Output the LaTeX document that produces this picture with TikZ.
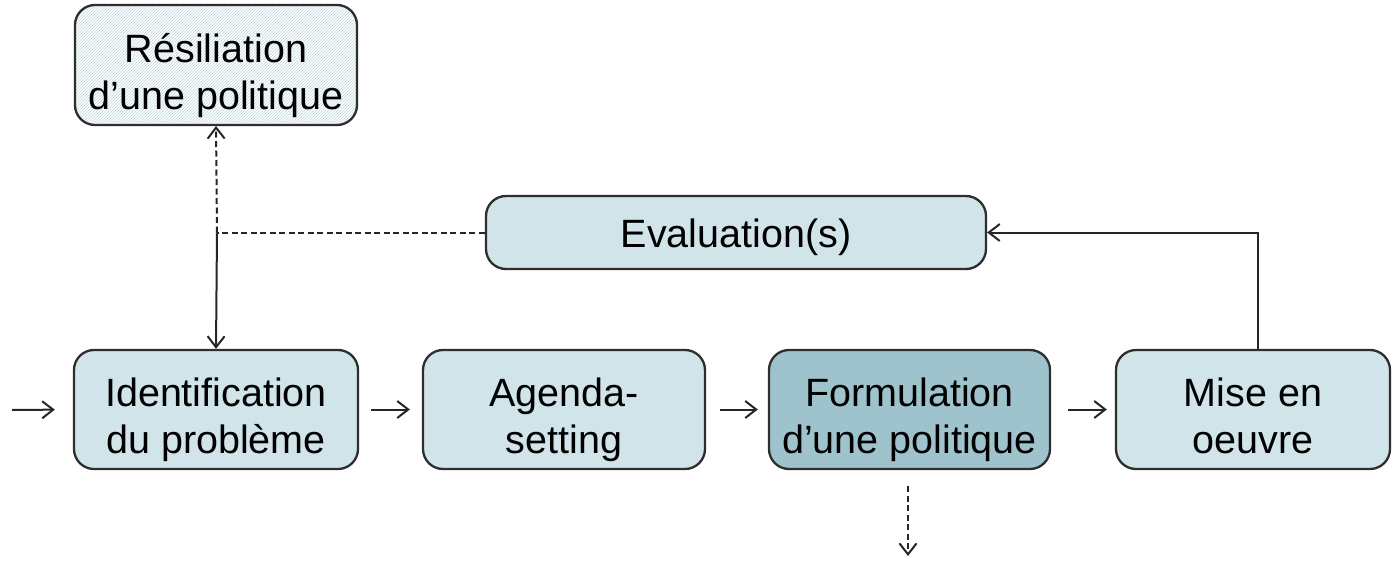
\documentclass[tikz,border=0pt]{standalone}
\usepackage{fontspec}
\setmainfont{Liberation Sans}
\usetikzlibrary{arrows.meta,patterns}
\definecolor{lightbox}{HTML}{D1E4EA}
\definecolor{darkbox}{HTML}{9EC3CC}
\definecolor{hatch}{HTML}{BFD6DE}
\definecolor{edge}{HTML}{2E2E2E}
\tikzset{
  box/.style={draw=edge, line width=2.3pt, rounded corners=20pt, inner sep=0pt},
  txt/.style={align=center, font=\fontsize{39.5}{47}\selectfont, inner sep=0pt},
  conn/.style={draw=black!85, line width=2pt, -{Straight Barb[length=11pt,width=17pt,line width=2pt]}},
  plainline/.style={draw=black!85, line width=2pt},
  dashedline/.style={dash pattern=on 6pt off 3.5pt},
}
\begin{document}
\begin{tikzpicture}[x=1pt,y=-1pt]
\useasboundingbox (0,0) rectangle (1393,562);
% boxes
\node[inner sep=0pt, outer sep=0pt, minimum width=282pt, minimum height=120pt] (res) at (216,65) {};
\fill[white, rounded corners=20pt] (res.south west) rectangle (res.north east);
\fill[pattern=north east lines, pattern color=hatch, rounded corners=20pt] (res.south west) rectangle (res.north east);
\draw[edge, line width=2.3pt, rounded corners=20pt] (res.south west) rectangle (res.north east);
\node[box, fill=lightbox, minimum width=500pt, minimum height=73pt] (eval) at (736,232.5) {};
\node[box, fill=lightbox, minimum width=284pt, minimum height=119pt] (ident) at (216,409.5) {};
\node[box, fill=lightbox, minimum width=282pt, minimum height=119pt] (agenda) at (564,409.5) {};
\node[box, fill=darkbox, minimum width=281pt, minimum height=119pt] (form) at (909.5,409.5) {};
\node[box, fill=lightbox, minimum width=274pt, minimum height=119pt] (mise) at (1253,409.5) {};
% texts
\node[txt, yshift=-12pt] (tres) at (res.center) {\strut Résiliation\\\strut d’une politique};
\node[txt, yshift=-6pt] (teval) at (eval.center) {\strut Evaluation(s)};
\node[txt, yshift=-11.5pt] (tident) at (ident.center) {\strut Identification\\\strut du problème};
\node[txt, yshift=-11.5pt] (tagenda) at (agenda.center) {\strut Agenda-\\\strut setting};
\node[txt, yshift=-11.5pt] (tform) at (form.center) {\strut Formulation\\\strut d’une politique};
\node[txt, yshift=-11.5pt] (tmise) at (mise.center) {\strut Mise en\\\strut oeuvre};
% connectors
\coordinate (start) at (12,410);
\coordinate (j) at (217,232.5);
\coordinate (up) at (1258,350);
\coordinate (out) at (908,556);
\draw[conn, shorten >=18pt] (start) -- (ident.west);
\draw[conn, shorten <=12pt, shorten >=12pt] (ident.east) -- (agenda.west);
\draw[conn, shorten <=14pt, shorten >=10pt] (agenda.east) -- (form.west);
\draw[conn, shorten <=17pt, shorten >=8pt] (form.east) -- (mise.west);
\draw[plainline, dashedline] (eval.west) -- (j);
\draw[conn, dashedline, shorten >=1pt] (j) -- (res.south);
\draw[conn] (j) -- (ident.north);
\draw[conn] (up) |- (eval.east);
\draw[conn, dashedline, shorten <=16pt] (form.south -| out) -- (out);
\end{tikzpicture}
\end{document}
